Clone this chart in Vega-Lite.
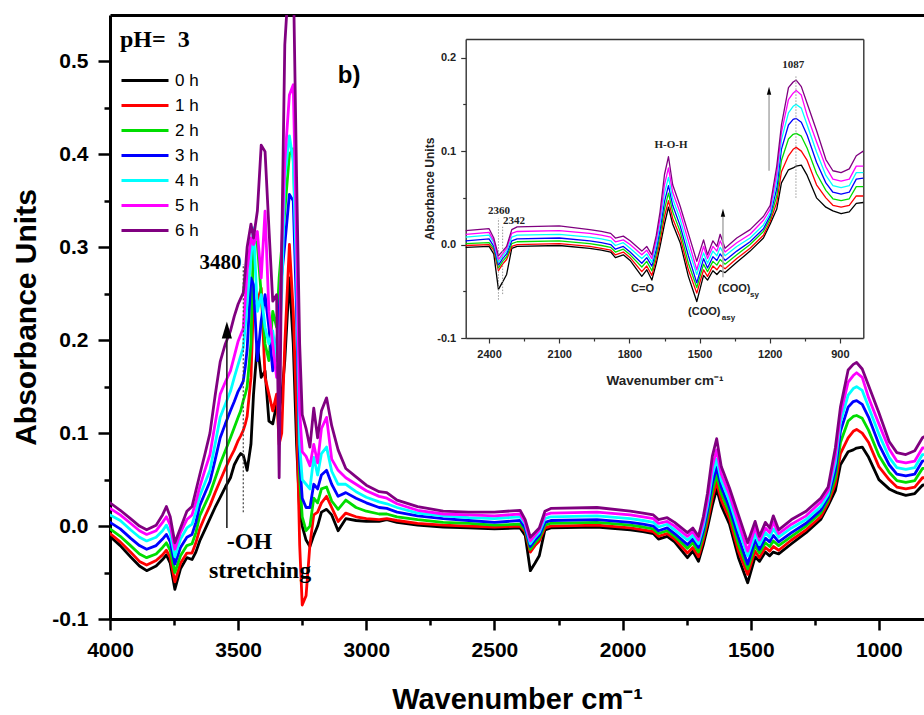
{
"$schema": "https://vega.github.io/schema/vega-lite/v6.json",
"width": 814, "height": 604,
"autosize": {"type": "none"},
"padding": {"left": 110, "top": 15, "right": 0, "bottom": 96},
"background": "white",
"config": {"view": {"stroke": null}, "axis": {"grid": false}},
"datasets": {
"spec": [
{"w":4000,"0 h":-0.011,"1 h":-0.008,"2 h":-0.003,"3 h":0.004,"4 h":0.012,"5 h":0.019,"6 h":0.025},
{"w":3960,"0 h":-0.021,"1 h":-0.017,"2 h":-0.011,"3 h":-0.003,"4 h":0.006,"5 h":0.012,"6 h":0.017},
{"w":3920,"0 h":-0.033,"1 h":-0.028,"2 h":-0.021,"3 h":-0.013,"4 h":-0.004,"5 h":0.003,"6 h":0.008},
{"w":3885,"0 h":-0.043,"1 h":-0.038,"2 h":-0.030,"3 h":-0.021,"4 h":-0.012,"5 h":-0.005,"6 h":0.000},
{"w":3857,"0 h":-0.048,"1 h":-0.042,"2 h":-0.034,"3 h":-0.025,"4 h":-0.016,"5 h":-0.009,"6 h":-0.004},
{"w":3820,"0 h":-0.043,"1 h":-0.037,"2 h":-0.030,"3 h":-0.021,"4 h":-0.012,"5 h":-0.005,"6 h":0.001},
{"w":3795,"0 h":-0.036,"1 h":-0.031,"2 h":-0.023,"3 h":-0.014,"4 h":-0.005,"5 h":0.004,"6 h":0.012},
{"w":3780,"0 h":-0.031,"1 h":-0.026,"2 h":-0.018,"3 h":-0.009,"4 h":0.001,"5 h":0.010,"6 h":0.021},
{"w":3765,"0 h":-0.040,"1 h":-0.034,"2 h":-0.026,"3 h":-0.017,"4 h":-0.008,"5 h":0.001,"6 h":0.010},
{"w":3747,"0 h":-0.068,"1 h":-0.060,"2 h":-0.050,"3 h":-0.041,"4 h":-0.033,"5 h":-0.025,"6 h":-0.018},
{"w":3725,"0 h":-0.046,"1 h":-0.040,"2 h":-0.032,"3 h":-0.023,"4 h":-0.014,"5 h":-0.007,"6 h":-0.002},
{"w":3700,"0 h":-0.034,"1 h":-0.029,"2 h":-0.021,"3 h":-0.012,"4 h":-0.002,"5 h":0.007,"6 h":0.016},
{"w":3680,"0 h":-0.036,"1 h":-0.029,"2 h":-0.019,"3 h":-0.009,"4 h":0.002,"5 h":0.012,"6 h":0.021},
{"w":3665,"0 h":-0.028,"1 h":-0.018,"2 h":-0.007,"3 h":0.004,"4 h":0.015,"5 h":0.026,"6 h":0.038},
{"w":3650,"0 h":-0.016,"1 h":-0.003,"2 h":0.011,"3 h":0.022,"4 h":0.032,"5 h":0.042,"6 h":0.055},
{"w":3630,"0 h":-0.004,"1 h":0.010,"2 h":0.023,"3 h":0.035,"4 h":0.046,"5 h":0.060,"6 h":0.077},
{"w":3610,"0 h":0.008,"1 h":0.022,"2 h":0.035,"3 h":0.048,"4 h":0.060,"5 h":0.077,"6 h":0.100},
{"w":3590,"0 h":0.020,"1 h":0.036,"2 h":0.051,"3 h":0.071,"4 h":0.088,"5 h":0.110,"6 h":0.140},
{"w":3570,"0 h":0.031,"1 h":0.049,"2 h":0.067,"3 h":0.095,"4 h":0.117,"5 h":0.142,"6 h":0.177},
{"w":3550,"0 h":0.042,"1 h":0.062,"2 h":0.081,"3 h":0.110,"4 h":0.131,"5 h":0.155,"6 h":0.196},
{"w":3530,"0 h":0.052,"1 h":0.074,"2 h":0.095,"3 h":0.124,"4 h":0.145,"5 h":0.167,"6 h":0.210},
{"w":3515,"0 h":0.066,"1 h":0.082,"2 h":0.106,"3 h":0.134,"4 h":0.160,"5 h":0.183,"6 h":0.226},
{"w":3500,"0 h":0.074,"1 h":0.092,"2 h":0.117,"3 h":0.145,"4 h":0.174,"5 h":0.199,"6 h":0.239},
{"w":3490,"0 h":0.078,"1 h":0.097,"2 h":0.124,"3 h":0.150,"4 h":0.183,"5 h":0.206,"6 h":0.245},
{"w":3480,"0 h":0.076,"1 h":0.103,"2 h":0.135,"3 h":0.156,"4 h":0.192,"5 h":0.213,"6 h":0.251},
{"w":3472,"0 h":0.068,"1 h":0.110,"2 h":0.142,"3 h":0.172,"4 h":0.215,"5 h":0.245,"6 h":0.275},
{"w":3465,"0 h":0.060,"1 h":0.118,"2 h":0.150,"3 h":0.190,"4 h":0.240,"5 h":0.275,"6 h":0.300},
{"w":3450,"0 h":0.088,"1 h":0.160,"2 h":0.196,"3 h":0.267,"4 h":0.289,"5 h":0.310,"6 h":0.325},
{"w":3440,"0 h":0.142,"1 h":0.242,"2 h":0.310,"3 h":0.260,"4 h":0.321,"5 h":0.303,"6 h":0.310},
{"w":3425,"0 h":0.196,"1 h":0.242,"2 h":0.303,"3 h":0.178,"4 h":0.231,"5 h":0.317,"6 h":0.339},
{"w":3410,"0 h":0.160,"1 h":0.256,"2 h":0.249,"3 h":0.221,"4 h":0.249,"5 h":0.267,"6 h":0.410},
{"w":3395,"0 h":0.167,"1 h":0.160,"2 h":0.196,"3 h":0.249,"4 h":0.214,"5 h":0.339,"6 h":0.403},
{"w":3380,"0 h":0.113,"1 h":0.142,"2 h":0.178,"3 h":0.214,"4 h":0.196,"5 h":0.231,"6 h":0.321},
{"w":3365,"0 h":0.110,"1 h":0.124,"2 h":0.231,"3 h":0.167,"4 h":0.210,"5 h":0.196,"6 h":0.242},
{"w":3350,"0 h":0.131,"1 h":0.142,"2 h":0.214,"3 h":0.196,"4 h":0.178,"5 h":0.160,"6 h":0.249},
{"w":3340,"0 h":0.124,"1 h":0.088,"2 h":0.267,"3 h":0.231,"4 h":0.196,"5 h":0.178,"6 h":0.052},
{"w":3330,"0 h":0.140,"1 h":0.100,"2 h":0.300,"3 h":0.270,"4 h":0.250,"5 h":0.300,"6 h":0.300},
{"w":3318,"0 h":0.178,"1 h":0.196,"2 h":0.339,"3 h":0.303,"4 h":0.375,"5 h":0.392,"6 h":0.518},
{"w":3300,"0 h":0.267,"1 h":0.303,"2 h":0.400,"3 h":0.357,"4 h":0.420,"5 h":0.464,"6 h":0.600},
{"w":3285,"0 h":0.196,"1 h":0.231,"2 h":0.406,"3 h":0.350,"4 h":0.392,"5 h":0.475,"6 h":0.600},
{"w":3272,"0 h":0.088,"1 h":0.124,"2 h":0.267,"3 h":0.231,"4 h":0.267,"5 h":0.303,"6 h":0.375},
{"w":3260,"0 h":0.016,"1 h":-0.020,"2 h":0.052,"3 h":0.070,"4 h":0.088,"5 h":0.124,"6 h":0.196},
{"w":3250,"0 h":0.000,"1 h":-0.085,"2 h":0.010,"3 h":0.030,"4 h":0.050,"5 h":0.080,"6 h":0.120},
{"w":3235,"0 h":-0.015,"1 h":-0.075,"2 h":-0.005,"3 h":0.020,"4 h":0.045,"5 h":0.075,"6 h":0.105},
{"w":3220,"0 h":-0.022,"1 h":-0.020,"2 h":0.000,"3 h":0.020,"4 h":0.040,"5 h":0.065,"6 h":0.085},
{"w":3205,"0 h":-0.010,"1 h":0.012,"2 h":0.030,"3 h":0.045,"4 h":0.074,"5 h":0.088,"6 h":0.127},
{"w":3190,"0 h":0.000,"1 h":0.015,"2 h":0.025,"3 h":0.040,"4 h":0.055,"5 h":0.068,"6 h":0.095},
{"w":3175,"0 h":0.015,"1 h":0.025,"2 h":0.040,"3 h":0.055,"4 h":0.078,"5 h":0.105,"6 h":0.124},
{"w":3155,"0 h":0.018,"1 h":0.032,"2 h":0.042,"3 h":0.060,"4 h":0.085,"5 h":0.117,"6 h":0.138},
{"w":3135,"0 h":0.012,"1 h":0.020,"2 h":0.027,"3 h":0.045,"4 h":0.059,"5 h":0.072,"6 h":0.108},
{"w":3110,"0 h":-0.005,"1 h":0.005,"2 h":0.018,"3 h":0.032,"4 h":0.045,"5 h":0.060,"6 h":0.082},
{"w":3080,"0 h":0.008,"1 h":0.014,"2 h":0.028,"3 h":0.036,"4 h":0.045,"5 h":0.052,"6 h":0.062},
{"w":3040,"0 h":0.006,"1 h":0.010,"2 h":0.020,"3 h":0.030,"4 h":0.037,"5 h":0.045,"6 h":0.053},
{"w":3000,"0 h":0.005,"1 h":0.008,"2 h":0.016,"3 h":0.025,"4 h":0.031,"5 h":0.038,"6 h":0.044},
{"w":2950,"0 h":0.005,"1 h":0.007,"2 h":0.013,"3 h":0.020,"4 h":0.026,"5 h":0.032,"6 h":0.037},
{"w":2920,"0 h":0.007,"1 h":0.008,"2 h":0.013,"3 h":0.019,"4 h":0.024,"5 h":0.030,"6 h":0.036},
{"w":2880,"0 h":0.004,"1 h":0.006,"2 h":0.010,"3 h":0.015,"4 h":0.020,"5 h":0.024,"6 h":0.028},
{"w":2800,"0 h":0.001,"1 h":0.003,"2 h":0.007,"3 h":0.011,"4 h":0.014,"5 h":0.017,"6 h":0.021},
{"w":2700,"0 h":-0.001,"1 h":0.001,"2 h":0.004,"3 h":0.008,"4 h":0.011,"5 h":0.013,"6 h":0.016},
{"w":2600,"0 h":-0.002,"1 h":0.000,"2 h":0.003,"3 h":0.006,"4 h":0.009,"5 h":0.012,"6 h":0.015},
{"w":2500,"0 h":-0.003,"1 h":-0.001,"2 h":0.001,"3 h":0.004,"4 h":0.008,"5 h":0.011,"6 h":0.015},
{"w":2400,"0 h":-0.002,"1 h":0.000,"2 h":0.002,"3 h":0.006,"4 h":0.010,"5 h":0.013,"6 h":0.017},
{"w":2380,"0 h":-0.010,"1 h":-0.006,"2 h":-0.004,"3 h":-0.002,"4 h":0.002,"5 h":0.004,"6 h":0.007},
{"w":2360,"0 h":-0.048,"1 h":-0.028,"2 h":-0.025,"3 h":-0.022,"4 h":-0.019,"5 h":-0.016,"6 h":-0.012},
{"w":2342,"0 h":-0.040,"1 h":-0.021,"2 h":-0.018,"3 h":-0.015,"4 h":-0.012,"5 h":-0.010,"6 h":-0.007},
{"w":2325,"0 h":-0.032,"1 h":-0.016,"2 h":-0.013,"3 h":-0.010,"4 h":-0.007,"5 h":-0.004,"6 h":-0.002},
{"w":2303,"0 h":-0.004,"1 h":-0.002,"2 h":0.001,"3 h":0.004,"4 h":0.008,"5 h":0.012,"6 h":0.016},
{"w":2280,"0 h":-0.002,"1 h":0.000,"2 h":0.003,"3 h":0.006,"4 h":0.010,"5 h":0.014,"6 h":0.019},
{"w":2100,"0 h":-0.001,"1 h":0.001,"2 h":0.004,"3 h":0.007,"4 h":0.011,"5 h":0.015,"6 h":0.020},
{"w":1970,"0 h":-0.004,"1 h":-0.002,"2 h":0.001,"3 h":0.004,"4 h":0.008,"5 h":0.012,"6 h":0.016},
{"w":1920,"0 h":-0.006,"1 h":-0.004,"2 h":-0.001,"3 h":0.002,"4 h":0.006,"5 h":0.010,"6 h":0.014},
{"w":1880,"0 h":-0.008,"1 h":-0.006,"2 h":-0.003,"3 h":0.000,"4 h":0.004,"5 h":0.008,"6 h":0.012},
{"w":1860,"0 h":-0.014,"1 h":-0.011,"2 h":-0.008,"3 h":-0.005,"4 h":-0.001,"5 h":0.003,"6 h":0.007},
{"w":1826,"0 h":-0.011,"1 h":-0.008,"2 h":-0.005,"3 h":-0.002,"4 h":0.002,"5 h":0.005,"6 h":0.009},
{"w":1797,"0 h":-0.017,"1 h":-0.014,"2 h":-0.011,"3 h":-0.008,"4 h":-0.004,"5 h":0.000,"6 h":0.004},
{"w":1747,"0 h":-0.034,"1 h":-0.029,"2 h":-0.024,"3 h":-0.020,"4 h":-0.015,"5 h":-0.011,"6 h":-0.007},
{"w":1726,"0 h":-0.027,"1 h":-0.023,"2 h":-0.018,"3 h":-0.014,"4 h":-0.010,"5 h":-0.006,"6 h":-0.002},
{"w":1704,"0 h":-0.038,"1 h":-0.033,"2 h":-0.028,"3 h":-0.023,"4 h":-0.019,"5 h":-0.015,"6 h":-0.011},
{"w":1685,"0 h":-0.020,"1 h":-0.015,"2 h":-0.010,"3 h":-0.005,"4 h":0.000,"5 h":0.005,"6 h":0.010},
{"w":1669,"0 h":-0.002,"1 h":0.004,"2 h":0.010,"3 h":0.016,"4 h":0.022,"5 h":0.028,"6 h":0.035},
{"w":1650,"0 h":0.022,"1 h":0.030,"2 h":0.038,"3 h":0.046,"4 h":0.055,"5 h":0.064,"6 h":0.075},
{"w":1633,"0 h":0.040,"1 h":0.047,"2 h":0.055,"3 h":0.063,"4 h":0.072,"5 h":0.082,"6 h":0.094},
{"w":1615,"0 h":0.022,"1 h":0.028,"2 h":0.035,"3 h":0.042,"4 h":0.049,"5 h":0.056,"6 h":0.064},
{"w":1583,"0 h":0.002,"1 h":0.008,"2 h":0.014,"3 h":0.020,"4 h":0.027,"5 h":0.034,"6 h":0.041},
{"w":1548,"0 h":-0.034,"1 h":-0.027,"2 h":-0.020,"3 h":-0.012,"4 h":-0.004,"5 h":0.004,"6 h":0.012},
{"w":1512,"0 h":-0.061,"1 h":-0.052,"2 h":-0.046,"3 h":-0.041,"4 h":-0.032,"5 h":-0.027,"6 h":-0.018},
{"w":1483,"0 h":-0.033,"1 h":-0.027,"2 h":-0.021,"3 h":-0.015,"4 h":-0.009,"5 h":-0.002,"6 h":0.005},
{"w":1466,"0 h":-0.038,"1 h":-0.034,"2 h":-0.029,"3 h":-0.025,"4 h":-0.020,"5 h":-0.015,"6 h":-0.011},
{"w":1443,"0 h":-0.028,"1 h":-0.023,"2 h":-0.018,"3 h":-0.013,"4 h":-0.007,"5 h":-0.002,"6 h":0.004},
{"w":1426,"0 h":-0.032,"1 h":-0.027,"2 h":-0.022,"3 h":-0.017,"4 h":-0.012,"5 h":-0.007,"6 h":-0.002},
{"w":1412,"0 h":-0.028,"1 h":-0.022,"2 h":-0.016,"3 h":-0.010,"4 h":-0.003,"5 h":0.004,"6 h":0.011},
{"w":1391,"0 h":-0.030,"1 h":-0.026,"2 h":-0.021,"3 h":-0.017,"4 h":-0.012,"5 h":-0.008,"6 h":-0.004},
{"w":1341,"0 h":-0.019,"1 h":-0.015,"2 h":-0.011,"3 h":-0.007,"4 h":-0.002,"5 h":0.002,"6 h":0.007},
{"w":1284,"0 h":-0.007,"1 h":-0.004,"2 h":0.000,"3 h":0.003,"4 h":0.007,"5 h":0.011,"6 h":0.016},
{"w":1227,"0 h":0.007,"1 h":0.010,"2 h":0.014,"3 h":0.017,"4 h":0.021,"5 h":0.026,"6 h":0.030},
{"w":1198,"0 h":0.022,"1 h":0.025,"2 h":0.028,"3 h":0.031,"4 h":0.034,"5 h":0.038,"6 h":0.042},
{"w":1170,"0 h":0.038,"1 h":0.045,"2 h":0.052,"3 h":0.060,"4 h":0.068,"5 h":0.076,"6 h":0.084},
{"w":1150,"0 h":0.066,"1 h":0.078,"2 h":0.090,"3 h":0.102,"4 h":0.112,"5 h":0.120,"6 h":0.128},
{"w":1120,"0 h":0.080,"1 h":0.095,"2 h":0.113,"3 h":0.128,"4 h":0.141,"5 h":0.155,"6 h":0.168},
{"w":1100,"0 h":0.082,"1 h":0.102,"2 h":0.118,"3 h":0.134,"4 h":0.148,"5 h":0.162,"6 h":0.174},
{"w":1087,"0 h":0.084,"1 h":0.104,"2 h":0.119,"3 h":0.135,"4 h":0.150,"5 h":0.165,"6 h":0.176},
{"w":1065,"0 h":0.085,"1 h":0.100,"2 h":0.116,"3 h":0.131,"4 h":0.146,"5 h":0.160,"6 h":0.169},
{"w":1040,"0 h":0.074,"1 h":0.090,"2 h":0.103,"3 h":0.117,"4 h":0.128,"5 h":0.138,"6 h":0.151},
{"w":1000,"0 h":0.050,"1 h":0.064,"2 h":0.076,"3 h":0.088,"4 h":0.099,"5 h":0.110,"6 h":0.122},
{"w":960,"0 h":0.040,"1 h":0.050,"2 h":0.058,"3 h":0.066,"4 h":0.074,"5 h":0.083,"6 h":0.091},
{"w":930,"0 h":0.036,"1 h":0.042,"2 h":0.049,"3 h":0.056,"4 h":0.063,"5 h":0.070,"6 h":0.079},
{"w":895,"0 h":0.033,"1 h":0.040,"2 h":0.047,"3 h":0.054,"4 h":0.061,"5 h":0.068,"6 h":0.077},
{"w":860,"0 h":0.035,"1 h":0.042,"2 h":0.049,"3 h":0.056,"4 h":0.063,"5 h":0.070,"6 h":0.081},
{"w":830,"0 h":0.044,"1 h":0.052,"2 h":0.062,"3 h":0.070,"4 h":0.077,"5 h":0.084,"6 h":0.095},
{"w":800,"0 h":0.045,"1 h":0.052,"2 h":0.062,"3 h":0.071,"4 h":0.077,"5 h":0.084,"6 h":0.100}
],
"bLabel": [{"w":3111,"a":0.484,"t":"b)"}],
"lab3480": [{"w":3487,"a":0.283,"t":"3480"}],
"ohLabel": [{"w":3544,"a":-0.017,"t":"-OH"},{"w":3614,"a":-0.048,"t":"stretching"}],
"mDots": [{"w":3480,"a1":0.015,"a2":0.282}],
"mArrow": [{"w":3544,"a1":-0.002,"a2":0.203}],
"mHead": [{"w":3544,"a":0.211}],
"iSerifC": [{"w":2358,"a":0.0363,"t":"2360"},{"w":1622,"a":0.107,"t":"H-O-H"},{"w":1100,"a":0.192,"t":"1087"}],
"iSerifL": [{"w":2340,"a":0.0256,"t":"2342"}],
"iSansC": [{"w":1744,"a":-0.048,"t":"C=O"}],
"iSansL": [{"w":1549,"a":-0.072,"t":"(COO)"},{"w":1421,"a":-0.048,"t":"(COO)"}],
"iSub": [{"w":1405,"a":-0.079,"t":"asy"},{"w":1284,"a":-0.054,"t":"sy"}],
"iDots": [{"w":2360,"a1":-0.059,"a2":0.028},{"w":2342,"a1":-0.053,"a2":0.019},{"w":1088,"a1":0.05,"a2":0.18}],
"iArrow": [{"w":1203,"a1":0.079,"a2":0.160},{"w":1400,"a1":-0.035,"a2":0.030}],
"iHead": [{"w":1203,"a":0.1645},{"w":1400,"a":0.034}]
},
"layer": [
{
"layer": [
{
"data": {"name": "spec"},
"transform": [{"fold": ["0 h","1 h","2 h","3 h","4 h","5 h","6 h"], "as": ["time","abs"]}],
"mark": {"type": "line", "strokeWidth": 2.8, "clip": true, "strokeJoin": "round", "strokeCap": "round"},
"encoding": {
"x": {"field": "w", "type": "quantitative", "scale": {"domain": [824,4000], "reverse": true, "nice": false, "zero": false},
"axis": {"orient": "bottom", "values": [4000,3500,3000,2500,2000,1500,1000], "format": "d", "labelFont": "Liberation Sans", "labelFontSize": 21, "labelFontWeight": "bold", "labelColor": "black", "labelPadding": 9, "labelFlush": false, "labelOverlap": false, "tickSize": 11, "tickWidth": 2.5, "tickColor": "black", "domainColor": "black", "domainWidth": 3, "grid": false, "title": "Wavenumber cm\u207b\u00b9", "titleFont": "Liberation Sans", "titleFontSize": 29, "titleFontWeight": "bold", "titleColor": "black", "titleBaseline": "alphabetic", "titleAlign": "center", "titleX": 407, "titleY": 89}},
"y": {"field": "abs", "type": "quantitative", "scale": {"domain": [-0.1,0.55], "nice": false, "zero": false},
"axis": {"orient": "left", "values": [-0.1,0,0.1,0.2,0.3,0.4,0.5], "labelExpr": "datum.value < 0 ? '-' + format(-datum.value, '.1f') : format(datum.value, '.1f')", "labelFont": "Liberation Sans", "labelFontSize": 21, "labelFontWeight": "bold", "labelColor": "black", "labelPadding": 10, "labelFlush": false, "labelOverlap": false, "tickSize": 12, "tickWidth": 2.5, "tickColor": "black", "domainColor": "black", "domainWidth": 3, "grid": false, "title": "Absorbance Units", "titleFont": "Liberation Sans", "titleFontSize": 30, "titleFontWeight": "bold", "titleColor": "black", "titleAngle": 270, "titleAlign": "center", "titleBaseline": "alphabetic", "titleX": -75, "titleY": 302}},
"color": {"field": "time", "type": "nominal",
"scale": {"domain": ["0 h","1 h","2 h","3 h","4 h","5 h","6 h"], "range": ["#000000","#ff0000","#00dd00","#0000ff","#00ffff","#ff00ff","#800080"]},
"legend": {"orient": "none", "legendX": 10, "legendY": 13, "title": "\u00a0pH=\u00a0\u00a03", "titleFont": "Liberation Serif", "titleFontSize": 24, "titleFontWeight": "bold", "titleColor": "black", "titlePadding": 16, "symbolType": "stroke", "symbolSize": 2209, "symbolStrokeWidth": 3, "labelFont": "Liberation Sans", "labelFontSize": 17, "labelColor": "black", "labelOffset": 5, "clipHeight": 25, "rowPadding": 0, "padding": 0}}
}
},
{
"data": {"name": "bLabel"},
"mark": {"type": "text", "font": "Liberation Sans", "fontSize": 24, "fontWeight": "bold", "align": "left", "baseline": "middle", "color": "black"},
"encoding": {
"x": {"field": "w", "type": "quantitative", "scale": {"domain": [824,4000], "reverse": true, "nice": false, "zero": false},
"axis": {"orient": "bottom", "values": [3750,3250,2750,2250,1750,1250], "labels": false, "domain": false, "tickSize": 6, "tickWidth": 2.5, "tickColor": "black", "grid": false, "title": null}},
"y": {"field": "a", "type": "quantitative", "scale": {"domain": [-0.1,0.55], "nice": false, "zero": false},
"axis": {"orient": "left", "values": [-0.05,0.05,0.15,0.25,0.35,0.45], "labels": false, "domain": false, "tickSize": 6, "tickWidth": 2.5, "tickColor": "black", "grid": false, "title": null}},
"text": {"field": "t"}
}
},
{
"data": {"name": "lab3480"},
"mark": {"type": "text", "font": "Liberation Serif", "fontSize": 21, "fontWeight": "bold", "align": "right", "baseline": "middle", "color": "black"},
"encoding": {
"x": {"field": "w", "type": "quantitative", "scale": {"domain": [824,4000], "reverse": true, "nice": false, "zero": false},
"axis": {"orient": "top", "ticks": false, "labels": false, "domain": true, "domainColor": "black", "domainWidth": 3, "grid": false, "title": null}},
"y": {"field": "a", "type": "quantitative", "scale": {"domain": [-0.1,0.55], "nice": false, "zero": false}, "axis": null},
"text": {"field": "t"}
}
},
{
"data": {"name": "ohLabel"},
"mark": {"type": "text", "font": "Liberation Serif", "fontSize": 24, "fontWeight": "bold", "align": "left", "baseline": "middle", "color": "black"},
"encoding": {
"x": {"field": "w", "type": "quantitative", "scale": {"domain": [824,4000], "reverse": true, "nice": false, "zero": false}, "axis": null},
"y": {"field": "a", "type": "quantitative", "scale": {"domain": [-0.1,0.55], "nice": false, "zero": false}, "axis": null},
"text": {"field": "t"}
}
},
{
"data": {"name": "mDots"},
"mark": {"type": "rule", "strokeDash": [2,2], "strokeWidth": 1.2, "color": "#444444"},
"encoding": {
"x": {"field": "w", "type": "quantitative", "scale": {"domain": [824,4000], "reverse": true, "nice": false, "zero": false}, "axis": null},
"y": {"field": "a1", "type": "quantitative", "scale": {"domain": [-0.1,0.55], "nice": false, "zero": false}, "axis": null},
"y2": {"field": "a2"}
}
},
{
"data": {"name": "mArrow"},
"mark": {"type": "rule", "strokeWidth": 1.6, "color": "#222222"},
"encoding": {
"x": {"field": "w", "type": "quantitative", "scale": {"domain": [824,4000], "reverse": true, "nice": false, "zero": false}, "axis": null},
"y": {"field": "a1", "type": "quantitative", "scale": {"domain": [-0.1,0.55], "nice": false, "zero": false}, "axis": null},
"y2": {"field": "a2"}
}
},
{
"data": {"name": "mHead"},
"mark": {"type": "point", "shape": "M-0.6,1L0,-1L0.6,1Z", "size": 289, "filled": true, "color": "black", "opacity": 1, "strokeWidth": 0},
"encoding": {
"x": {"field": "w", "type": "quantitative", "scale": {"domain": [824,4000], "reverse": true, "nice": false, "zero": false}, "axis": null},
"y": {"field": "a", "type": "quantitative", "scale": {"domain": [-0.1,0.55], "nice": false, "zero": false}, "axis": null}
}
}
],
"resolve": {"axis": {"x": "independent", "y": "independent"}}
},
{
"layer": [
{
"data": {"name": "spec"},
"transform": [{"filter": "datum.w <= 2500"}, {"fold": ["0 h","1 h","2 h","3 h","4 h","5 h","6 h"], "as": ["time","abs"]}],
"mark": {"type": "line", "strokeWidth": 1.3, "clip": true, "strokeJoin": "round"},
"encoding": {
"x": {"field": "w", "type": "quantitative", "scale": {"domain": [800,2500], "reverse": true, "nice": false, "zero": false, "range": [355.7,753.3]},
"axis": {"orient": "bottom", "offset": -281, "values": [2400,2100,1800,1500,1200,900], "format": "d", "labelFont": "Liberation Sans", "labelFontSize": 11, "labelFontWeight": "bold", "labelColor": "#222222", "labelPadding": 5, "labelFlush": false, "labelOverlap": false, "tickSize": 5, "tickWidth": 1.2, "tickColor": "#333333", "domainColor": "#333333", "domainWidth": 1.4, "grid": false, "title": "Wavenumber cm\u207b\u00b9", "titleFont": "Liberation Sans", "titleFontSize": 13.5, "titleFontWeight": "bold", "titleColor": "#222222", "titleBaseline": "alphabetic", "titleAlign": "center", "titleX": 554.5, "titleY": 46}},
"y": {"field": "abs", "type": "quantitative", "scale": {"domain": [-0.1,0.22], "nice": false, "zero": false, "range": [323,24]},
"axis": {"orient": "left", "offset": -355.7, "values": [-0.1,0,0.1,0.2], "labelExpr": "datum.value < 0 ? '-' + format(-datum.value, '.1f') : format(datum.value, '.1f')", "labelFont": "Liberation Sans", "labelFontSize": 11, "labelFontWeight": "bold", "labelColor": "#222222", "labelPadding": 5, "labelFlush": false, "labelOverlap": false, "tickSize": 5, "tickWidth": 1.2, "tickColor": "#333333", "domainColor": "#333333", "domainWidth": 1.4, "grid": false, "title": "Absorbance Units", "titleFont": "Liberation Sans", "titleFontSize": 12, "titleFontWeight": "bold", "titleColor": "#222222", "titleAngle": 270, "titleAlign": "center", "titleBaseline": "alphabetic", "titleX": -32, "titleY": 173.5}},
"color": {"field": "time", "type": "nominal", "scale": {"domain": ["0 h","1 h","2 h","3 h","4 h","5 h","6 h"], "range": ["#000000","#ff0000","#00dd00","#0000ff","#00ffff","#ff00ff","#800080"]}}
}
},
{
"data": {"name": "iSerifC"},
"mark": {"type": "text", "font": "Liberation Serif", "fontSize": 11, "fontWeight": "bold", "align": "center", "baseline": "middle", "color": "#222222"},
"encoding": {
"x": {"field": "w", "type": "quantitative", "scale": {"domain": [800,2500], "reverse": true, "nice": false, "zero": false, "range": [355.7,753.3]},
"axis": {"orient": "bottom", "offset": -281, "values": [2250,1950,1650,1350,1050], "labels": false, "domain": false, "tickSize": 3, "tickWidth": 1.2, "tickColor": "#333333", "grid": false, "title": null}},
"y": {"field": "a", "type": "quantitative", "scale": {"domain": [-0.1,0.22], "nice": false, "zero": false, "range": [323,24]},
"axis": {"orient": "left", "offset": -355.7, "values": [-0.05,0.05,0.15], "labels": false, "domain": false, "tickSize": 3, "tickWidth": 1.2, "tickColor": "#333333", "grid": false, "title": null}},
"text": {"field": "t"}
}
},
{
"data": {"name": "iSerifL"},
"mark": {"type": "text", "font": "Liberation Serif", "fontSize": 11, "fontWeight": "bold", "align": "left", "baseline": "middle", "color": "#222222"},
"encoding": {
"x": {"field": "w", "type": "quantitative", "scale": {"domain": [800,2500], "reverse": true, "nice": false, "zero": false, "range": [355.7,753.3]},
"axis": {"orient": "top", "offset": -24, "ticks": false, "labels": false, "domain": true, "domainColor": "#333333", "domainWidth": 1.4, "grid": false, "title": null}},
"y": {"field": "a", "type": "quantitative", "scale": {"domain": [-0.1,0.22], "nice": false, "zero": false, "range": [323,24]},
"axis": {"orient": "right", "offset": -60.7, "ticks": false, "labels": false, "domain": true, "domainColor": "#333333", "domainWidth": 1.4, "grid": false, "title": null}},
"text": {"field": "t"}
}
},
{
"data": {"name": "iSansC"},
"mark": {"type": "text", "font": "Liberation Sans", "fontSize": 11, "fontWeight": "bold", "align": "center", "baseline": "middle", "color": "#222222"},
"encoding": {
"x": {"field": "w", "type": "quantitative", "scale": {"domain": [800,2500], "reverse": true, "nice": false, "zero": false, "range": [355.7,753.3]}, "axis": null},
"y": {"field": "a", "type": "quantitative", "scale": {"domain": [-0.1,0.22], "nice": false, "zero": false, "range": [323,24]}, "axis": null},
"text": {"field": "t"}
}
},
{
"data": {"name": "iSansL"},
"mark": {"type": "text", "font": "Liberation Sans", "fontSize": 11, "fontWeight": "bold", "align": "left", "baseline": "middle", "color": "#222222"},
"encoding": {
"x": {"field": "w", "type": "quantitative", "scale": {"domain": [800,2500], "reverse": true, "nice": false, "zero": false, "range": [355.7,753.3]}, "axis": null},
"y": {"field": "a", "type": "quantitative", "scale": {"domain": [-0.1,0.22], "nice": false, "zero": false, "range": [323,24]}, "axis": null},
"text": {"field": "t"}
}
},
{
"data": {"name": "iSub"},
"mark": {"type": "text", "font": "Liberation Sans", "fontSize": 8, "fontWeight": "bold", "align": "left", "baseline": "middle", "color": "#222222"},
"encoding": {
"x": {"field": "w", "type": "quantitative", "scale": {"domain": [800,2500], "reverse": true, "nice": false, "zero": false, "range": [355.7,753.3]}, "axis": null},
"y": {"field": "a", "type": "quantitative", "scale": {"domain": [-0.1,0.22], "nice": false, "zero": false, "range": [323,24]}, "axis": null},
"text": {"field": "t"}
}
},
{
"data": {"name": "iDots"},
"mark": {"type": "rule", "strokeDash": [1.5,1.5], "strokeWidth": 1, "color": "#999999"},
"encoding": {
"x": {"field": "w", "type": "quantitative", "scale": {"domain": [800,2500], "reverse": true, "nice": false, "zero": false, "range": [355.7,753.3]}, "axis": null},
"y": {"field": "a1", "type": "quantitative", "scale": {"domain": [-0.1,0.22], "nice": false, "zero": false, "range": [323,24]}, "axis": null},
"y2": {"field": "a2"}
}
},
{
"data": {"name": "iArrow"},
"mark": {"type": "rule", "strokeWidth": 1.5, "color": "#aaaaaa"},
"encoding": {
"x": {"field": "w", "type": "quantitative", "scale": {"domain": [800,2500], "reverse": true, "nice": false, "zero": false, "range": [355.7,753.3]}, "axis": null},
"y": {"field": "a1", "type": "quantitative", "scale": {"domain": [-0.1,0.22], "nice": false, "zero": false, "range": [323,24]}, "axis": null},
"y2": {"field": "a2"}
}
},
{
"data": {"name": "iHead"},
"mark": {"type": "point", "shape": "M-0.55,1L0,-1L0.55,1Z", "size": 64, "filled": true, "color": "black", "opacity": 1, "strokeWidth": 0},
"encoding": {
"x": {"field": "w", "type": "quantitative", "scale": {"domain": [800,2500], "reverse": true, "nice": false, "zero": false, "range": [355.7,753.3]}, "axis": null},
"y": {"field": "a", "type": "quantitative", "scale": {"domain": [-0.1,0.22], "nice": false, "zero": false, "range": [323,24]}, "axis": null}
}
}
],
"resolve": {"axis": {"x": "independent", "y": "independent"}}
}
],
"resolve": {"scale": {"x": "independent", "y": "independent"}, "axis": {"x": "independent", "y": "independent"}}
}
